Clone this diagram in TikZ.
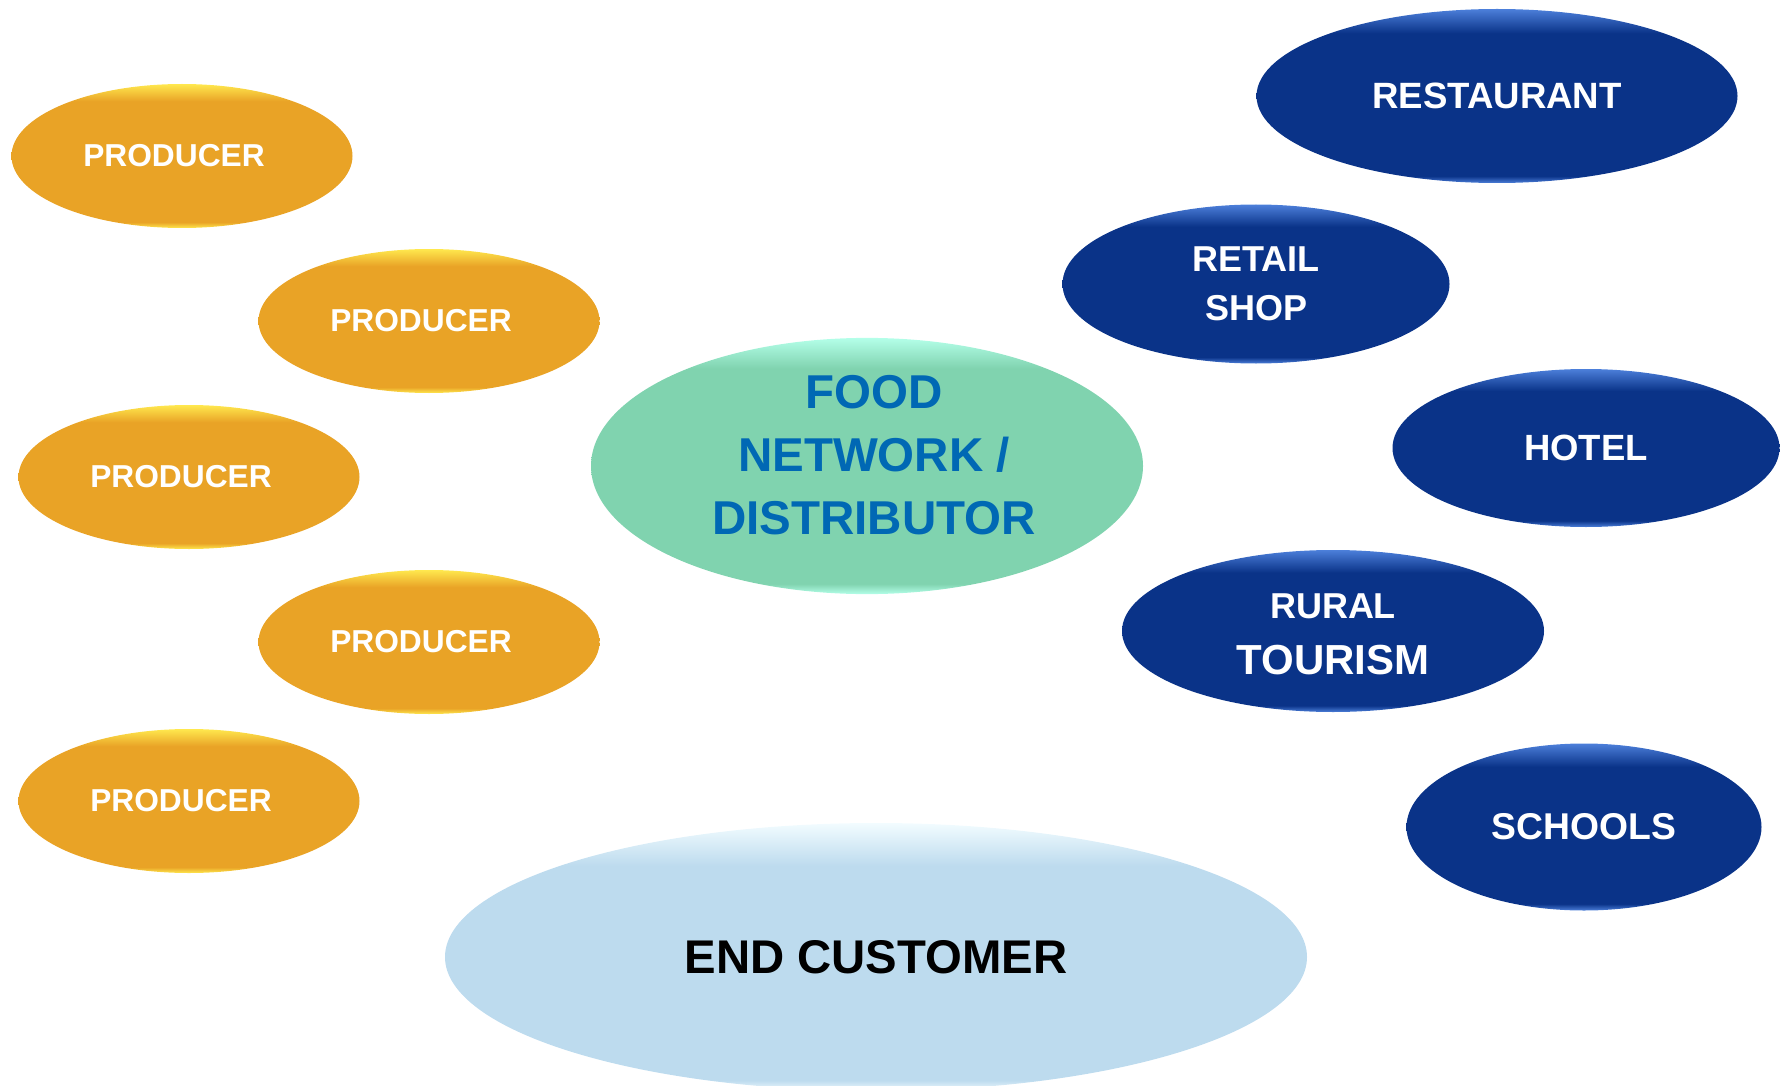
\documentclass[tikz,border=0pt]{standalone}
\usepackage{fontspec}
\setmainfont{Liberation Sans}
\usetikzlibrary{shapes.geometric}

% fill colours: body and rim of each kind of blob
\definecolor{prodbody}{HTML}{E9A326}
\definecolor{prodrim}{HTML}{FFE84E}
\definecolor{outbody}{HTML}{0A3388}
\definecolor{outrim}{HTML}{4C7FDA}
\definecolor{netbody}{HTML}{80D3AF}
\definecolor{netrim}{HTML}{B4FFE9}
\definecolor{custbody}{HTML}{BDDBEE}
\definecolor{custrim}{HTML}{F2FCFF}
\definecolor{nettext}{HTML}{0068B4}

% light rim at top and bottom, plain body in between
\pgfdeclareverticalshading{prodshade}{100bp}{color(0bp)=(prodrim); color(25bp)=(prodrim); color(27bp)=(prodbody); color(69bp)=(prodbody); color(75bp)=(prodrim); color(100bp)=(prodrim)}
\pgfdeclareverticalshading{outshade}{100bp}{color(0bp)=(outrim); color(25bp)=(outrim); color(27bp)=(outbody); color(68bp)=(outbody); color(75bp)=(outrim); color(100bp)=(outrim)}
\pgfdeclareverticalshading{netshade}{100bp}{color(0bp)=(netrim); color(25bp)=(netrim); color(27bp)=(netbody); color(69bp)=(netbody); color(75bp)=(netrim); color(100bp)=(netrim)}
\pgfdeclareverticalshading{custshade}{100bp}{color(0bp)=(custrim); color(25bp)=(custrim); color(27bp)=(custbody); color(67bp)=(custbody); color(75bp)=(custrim); color(100bp)=(custrim)}

\tikzset{
  blob/.style={ellipse, inner sep=0pt, outer sep=0pt, align=center},
  producer/.style={blob, shading=prodshade, text=white,
    minimum width=341pt, minimum height=144pt,
    font=\bfseries\fontsize{31.7}{38}\selectfont},
  outlet/.style={blob, shading=outshade, text=white,
    font=\bfseries\fontsize{36}{49}\selectfont},
  network/.style={blob, shading=netshade, text=nettext,
    font=\bfseries\fontsize{47.5}{63}\selectfont},
  customer/.style={blob, shading=custshade, text=black,
    font=\bfseries\fontsize{47.3}{56}\selectfont}
}

\begin{document}
\begin{tikzpicture}[x=1pt,y=-1pt]
\useasboundingbox (0,0) rectangle (1780,1086);

% producers on the left (label sits a bit left of centre)
\foreach \i/\x/\y in {1/182/156, 2/429/321, 3/189/477, 4/429/642, 5/189/801}
  \node[producer] (prod\i) at (\x,\y) {PRODUCER\kern16pt};

% distributor in the middle (label a bit up and right)
\node[network, minimum width=552pt, minimum height=255pt] (net) at (867,466)
  {\hspace*{14pt}FOOD\\ \hspace*{14pt}NETWORK /\\ \hspace*{14pt}DISTRIBUTOR\rule[-22pt]{0pt}{0pt}};

% outlets on the right
\node[outlet, minimum width=481pt, minimum height=174pt, font=\bfseries\fontsize{36.6}{49}\selectfont] (rest) at (1497,96) {RESTAURANT};
\node[outlet, minimum width=387pt, minimum height=159pt] (shop) at (1256,284) {RETAIL\\ SHOP};
\node[outlet, minimum width=387pt, minimum height=158pt, font=\bfseries\fontsize{36.5}{49}\selectfont] (hotel) at (1586,448) {HOTEL};
\node[outlet, minimum width=422pt, minimum height=162pt] (rural) at (1333,631)
  {\rule{0pt}{32pt}\fontsize{36}{56}\selectfont RURAL\\[7pt] \fontsize{42}{56}\selectfont TOURISM};
\node[outlet, minimum width=355pt, minimum height=167pt, font=\bfseries\fontsize{37.3}{49}\selectfont] (school) at (1584,827) {SCHOOLS};

% end customer, cut by the bottom edge
\node[customer, minimum width=862pt, minimum height=268pt] (cust) at (876,957) {END CUSTOMER};
\end{tikzpicture}
\end{document}
